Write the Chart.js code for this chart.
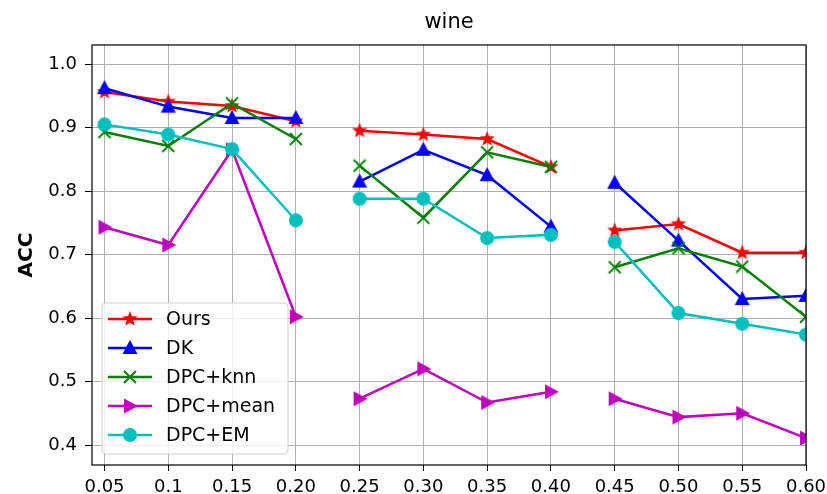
<!DOCTYPE html>
<html>
<head>
<meta charset="utf-8">
<script src="https://cdn.jsdelivr.net/npm/chart.js@4.4.0/dist/chart.umd.min.js"></script>
<style>
  html, body { margin: 0; padding: 0; background: #fff; }
  #wrap { width: 827px; height: 494px; }
</style>
</head>
<body>
<div id="wrap"><canvas id="chart" width="827" height="494"></canvas></div>
<script>
// x tick labels (points are evenly spaced, lines break after 0.20 and 0.40)
const xLabels = ["0.05", "0.1", "0.15", "0.20", "0.25", "0.30", "0.35", "0.40", "0.45", "0.50", "0.55", "0.60"];
const yTicks = [0.4, 0.5, 0.6, 0.7, 0.8, 0.9, 1.0];
const breakAfter = [3, 7];

const ours    = [0.956, 0.941, 0.934, 0.910, 0.895, 0.889, 0.882, 0.838, 0.738, 0.748, 0.703, 0.703];
const dk      = [0.962, 0.933, 0.915, 0.915, 0.815, 0.865, 0.825, 0.744, 0.813, 0.722, 0.630, 0.635];
const dpcKnn  = [0.893, 0.871, 0.938, 0.882, 0.840, 0.758, 0.861, 0.838, 0.680, 0.710, 0.681, 0.602];
const dpcMean = [0.743, 0.715, 0.865, 0.602, 0.473, 0.520, 0.467, 0.484, 0.473, 0.444, 0.450, 0.411];
const dpcEm   = [0.905, 0.889, 0.866, 0.754, 0.788, 0.788, 0.726, 0.731, 0.720, 0.608, 0.591, 0.574];

// marker images, drawn once and reused for points and legend
function makeMarker(kind, color) {
  const c = document.createElement("canvas");
  c.width = 18; c.height = 18;
  const g = c.getContext("2d");
  const cx = 9, cy = 9;
  g.fillStyle = color;
  g.strokeStyle = color;
  g.beginPath();
  if (kind === "star") {
    for (let i = 0; i < 10; i++) {
      const r = i % 2 === 0 ? 8 : 3.4;
      const a = -Math.PI / 2 + i * Math.PI / 5;
      g.lineTo(cx + r * Math.cos(a), cy + r * Math.sin(a));
    }
    g.closePath(); g.fill();
  } else if (kind === "up") {
    g.moveTo(cx, cy - 8); g.lineTo(cx + 7.5, cy + 6); g.lineTo(cx - 7.5, cy + 6);
    g.closePath(); g.fill();
  } else if (kind === "right") {
    g.moveTo(cx + 8, cy); g.lineTo(cx - 6, cy - 7.5); g.lineTo(cx - 6, cy + 7.5);
    g.closePath(); g.fill();
  } else if (kind === "x") {
    g.lineWidth = 1.8;
    g.moveTo(cx - 6, cy - 6); g.lineTo(cx + 6, cy + 6);
    g.moveTo(cx + 6, cy - 6); g.lineTo(cx - 6, cy + 6);
    g.stroke();
  } else {
    g.arc(cx, cy, 7, 0, Math.PI * 2); g.fill();
  }
  return c;
}

const series = [
  { label: "Ours",     data: ours,    color: "#ff0000", marker: makeMarker("star", "#ff0000") },
  { label: "DK",       data: dk,      color: "#0000ff", marker: makeMarker("up", "#0000ff") },
  { label: "DPC+knn",  data: dpcKnn,  color: "#008000", marker: makeMarker("x", "#008000") },
  { label: "DPC+mean", data: dpcMean, color: "#bf00bf", marker: makeMarker("right", "#bf00bf") },
  { label: "DPC+EM",   data: dpcEm,   color: "#00bfbf", marker: makeMarker("circle", "#00bfbf") },
];

const datasets = series.map((s, k) => ({
  label: s.label,
  data: s.data.map((v, i) => ({ x: i, y: v })),
  borderColor: s.color,
  backgroundColor: s.color,
  borderWidth: 2.5,
  pointStyle: s.marker,
  pointRadius: 8,
  pointHoverRadius: 8,
  tension: 0,
  order: series.length - k,
  segment: {
    borderColor: (ctx) => breakAfter.includes(ctx.p0DataIndex) ? "rgba(0,0,0,0)" : s.color,
  },
}));

const font = "'DejaVu Sans', sans-serif";

// title, frame and legend drawn like matplotlib
const decorations = {
  id: "decorations",
  afterDraw(chart) {
    const { ctx, chartArea: a } = chart;
    ctx.save();
    ctx.fillStyle = "#000";
    ctx.font = "21px " + font;
    ctx.textAlign = "center";
    ctx.textBaseline = "alphabetic";
    ctx.fillText("wine", (a.left + a.right) / 2, 28);

    ctx.strokeStyle = "#000";
    ctx.lineWidth = 1.2;
    ctx.strokeRect(a.left, a.top, a.right - a.left, a.bottom - a.top);

    // legend box
    const bx = 102, by = 303, bw = 186, bh = 151;
    ctx.beginPath();
    ctx.roundRect(bx, by, bw, bh, 4);
    ctx.fillStyle = "rgba(255,255,255,0.8)";
    ctx.fill();
    ctx.strokeStyle = "#d0d0d0";
    ctx.lineWidth = 1;
    ctx.stroke();
    ctx.font = "19px " + font;
    ctx.textAlign = "left";
    ctx.textBaseline = "middle";
    series.forEach((s, i) => {
      const y = 319 + i * 29;
      ctx.strokeStyle = s.color;
      ctx.lineWidth = 2.5;
      ctx.beginPath();
      ctx.moveTo(108, y); ctx.lineTo(152, y);
      ctx.stroke();
      ctx.drawImage(s.marker, 130 - 9, y - 9);
      ctx.fillStyle = "#000";
      ctx.fillText(s.label, 166, y + 1);
    });
    ctx.restore();
  },
};

new Chart(document.getElementById("chart"), {
  type: "line",
  data: { datasets },
  options: {
    responsive: false,
    animation: false,
    events: [],
    layout: { padding: { top: 45, right: 21, left: 0, bottom: 0 } },
    plugins: { legend: { display: false }, tooltip: { enabled: false }, title: { display: false } },
    scales: {
      x: {
        type: "linear",
        min: -0.196,
        max: 11,
        afterBuildTicks: (scale) => { scale.ticks = xLabels.map((_, i) => ({ value: i })); },
        afterFit: (scale) => {
          scale.height = 29;
          scale.paddingLeft = 0;
          scale.paddingRight = 0;
        },
        grid: { color: "#b0b0b0", lineWidth: 1, tickColor: "#000", tickLength: 6 },
        border: { display: false },
        ticks: {
          color: "#000",
          font: { family: font, size: 18 },
          padding: 6,
          maxRotation: 0,
          autoSkip: false,
          callback: (v) => xLabels[v],
        },
      },
      y: {
        min: 0.3686,
        max: 1.03,
        afterBuildTicks: (scale) => { scale.ticks = yTicks.map((v) => ({ value: v })); },
        afterFit: (scale) => { scale.width = 92; },
        grid: { color: "#b0b0b0", lineWidth: 1, tickColor: "#000", tickLength: 7 },
        border: { display: false },
        ticks: {
          color: "#000",
          font: { family: font, size: 18 },
          padding: 8,
          callback: (v) => v.toFixed(1),
        },
        title: {
          display: true,
          text: "ACC",
          color: "#000",
          font: { family: font, size: 20, weight: "bold" },
          padding: { top: 15, bottom: 0 },
        },
      },
    },
  },
  plugins: [decorations],
});
</script>
</body>
</html>
